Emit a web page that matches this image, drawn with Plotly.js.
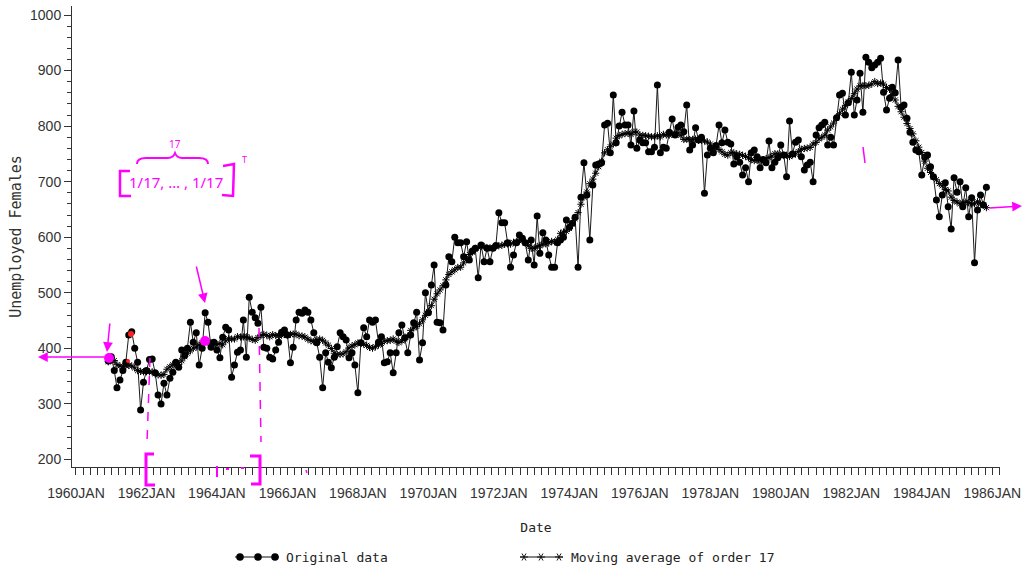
<!DOCTYPE html>
<html><head><meta charset="utf-8">
<script src="https://cdn.plot.ly/plotly-3.0.1.min.js"></script>
<style>html,body{margin:0;padding:0;background:#fff;}#chart{width:1023px;height:569px;}</style>
</head><body><div id="chart"></div>
<script>
// ---- data (monthly, Dec 1960 .. Nov 1985) ----
const startYear = 1960;
const startMonth = 12;
const unemployed1960s = [
 377, 385, 360, 329, 343, 360, 375, 424, 430, 400, 375, 289, 339,
 360, 380, 381, 356, 316, 300, 337, 316, 346, 357, 375, 366,
 397, 387, 400, 447, 411, 428, 370, 400, 464, 447, 402, 411,
 397, 383, 420, 438, 433, 348, 370, 393, 397, 451, 384, 492,
 465, 455, 445, 474, 402, 400, 384, 381, 397, 411, 429, 433,
 424, 374, 402, 451, 465, 463, 469, 465, 451, 428, 410, 384,
 329, 392, 375, 365, 384, 403, 428, 421, 415, 383, 392, 370,
 320, 410, 437, 421, 451, 447, 451, 411, 421, 374, 376, 392,
 356, 392, 428, 442, 419, 392, 424, 446, 465, 379, 410, 500
];
const unemployed1970s = [
 464, 514, 550, 447, 446, 433, 514, 565, 556, 600, 590, 590,
 565, 592, 559, 575, 580, 527, 586, 556, 580, 556, 580, 585,
 644, 626, 626, 590, 546, 568, 590, 604, 598, 590, 559, 595,
 550, 638, 571, 608, 595, 568, 546, 546, 590, 595, 600, 631,
 618, 625, 636, 546, 672, 734, 676, 595, 694, 730, 732, 734,
 802, 805, 752, 856, 770, 800, 825, 802, 802, 766, 827, 760,
 775, 770, 770, 754, 754, 762, 874, 752, 762, 760, 789, 813,
 784, 798, 802, 790, 838, 757, 766, 797, 775, 780, 679, 748,
 760, 752, 765, 802, 770, 793, 771, 768, 732, 745, 735, 712,
 725, 700, 752, 757, 745, 725, 740, 734, 773, 725, 735, 743
];
const unemployed1980s = [
 766, 748, 709, 809, 750, 771, 775, 745, 721, 730, 735, 700,
 784, 797, 802, 807, 766, 780, 766, 815, 856, 859, 820, 842,
 897, 820, 847, 895, 825, 924, 915, 905, 910, 915, 922, 861,
 829, 850, 870, 860, 919, 834, 838, 814, 789, 771, 757, 754,
 712, 744, 748, 727, 709, 667, 637, 676, 698, 655, 615, 707,
 681, 700, 655, 689, 637, 671, 554, 649, 676, 658, 690
];
const maOrder = 17;
const tickLabels = ['1960JAN','1962JAN','1964JAN','1966JAN','1968JAN','1970JAN','1972JAN',
  '1974JAN','1976JAN','1978JAN','1980JAN','1982JAN','1984JAN','1986JAN'];
const seriesNames = ['Original data', 'Moving average of order 17'];

// ---- derived ----
const values = unemployed1960s.concat(unemployed1970s, unemployed1980s);
const dates = values.map((v, i) => {
  const m = startYear * 12 + (startMonth - 1) + i;
  const y = Math.floor(m / 12), mo = (m % 12) + 1;
  return y + '-' + String(mo).padStart(2, '0') + '-01';
});
const half = Math.floor(maOrder / 2);
const movingAvg = values.map((v, i) => {
  let s = 0, n = 0;
  for (let k = i - half; k <= i + half; k++) {
    if (k >= 0 && k < values.length) { s += values[k]; n++; }
  }
  return s / n;
});
const tickVals = tickLabels.map(t => t.slice(0, 4) + '-01-01');

// ---- geometry helpers (pixel -> paper) ----
const L = 72, R = 1000, T = 6, B = 467;
const px = x => (x - L) / (R - L);
const py = y => (B - y) / (B - T);
const MAG = '#ff00ff';
const monoFont = 'DejaVu Sans Mono, Liberation Mono, monospace';

function path(points) {
  return points.map(p => p[0] + ' ' + px(p[1]).toFixed(5) + ',' + py(p[2]).toFixed(5)).join(' ');
}
function circle(cx, cy, r, color) {
  return {type:'circle', xref:'paper', yref:'paper', x0:px(cx - r), x1:px(cx + r), y0:py(cy + r), y1:py(cy - r),
    fillcolor:color, line:{color:color, width:0}, layer:'above'};
}
function seg(x0, y0, x1, y1, color, width, dash) {
  return {type:'line', xref:'paper', yref:'paper', x0:px(x0), y0:py(y0), x1:px(x1), y1:py(y1),
    line:{color:color, width:width, dash:dash || 'solid'}, layer:'above'};
}
function star(cx, cy) {
  return {type:'path', xref:'paper', yref:'paper', layer:'above', line:{color:'#111', width:1},
    path: path([['M',cx-4,cy],['L',cx+4,cy],['M',cx-2,cy-3.5],['L',cx+2,cy+3.5],['M',cx-2,cy+3.5],['L',cx+2,cy-3.5]])};
}

const legY = 557;
const shapes = [
  // legend symbols
  seg(235, legY, 279, legY, '#111', 1.2),
  circle(240, legY, 3.8, '#000'), circle(258, legY, 3.8, '#000'), circle(275, legY, 3.8, '#000'),
  seg(520, legY, 563, legY, '#111', 1),
  star(524, legY), star(541, legY), star(559, legY),
  // hand-drawn magenta marks
  circle(109, 358, 5, MAG), circle(205, 341, 5, MAG),
  circle(131, 334, 3, '#ff2020'), circle(128, 361, 2, '#ff2020'),
  seg(150, 358, 147, 442, MAG, 1.5, 'dash'),
  seg(259, 328, 261, 442, MAG, 1.5, 'dash'),
  {type:'path', xref:'paper', yref:'paper', layer:'above', line:{color:MAG, width:3},
    path: path([['M',154,454],['L',146,454],['L',146,485],['L',155,485]])},
  {type:'path', xref:'paper', yref:'paper', layer:'above', line:{color:MAG, width:3},
    path: path([['M',250,456],['L',260,456],['L',260,484],['L',251,484]])},
  seg(217, 466, 217, 477, MAG, 2),
  seg(226, 469, 229, 469, MAG, 2), seg(241, 468, 244, 468, MAG, 2),
  seg(306, 470, 307, 473, MAG, 1.5),
  seg(863, 147, 865, 163, MAG, 1.5),
  // formula brackets and brace
  {type:'path', xref:'paper', yref:'paper', layer:'above', line:{color:MAG, width:2.5},
    path: path([['M',130,171],['L',120,171],['L',120,196],['L',131,196]])},
  {type:'path', xref:'paper', yref:'paper', layer:'above', line:{color:MAG, width:2.5},
    path: path([['M',223,166],['L',234,164],['L',233,196],['L',222,195]])},
  {type:'path', xref:'paper', yref:'paper', layer:'above', line:{color:MAG, width:2},
    path: 'M ' + px(137) + ',' + py(164) + ' Q ' + px(137) + ',' + py(158) + ' ' + px(146) + ',' + py(158) +
          ' L ' + px(168) + ',' + py(158) + ' Q ' + px(173) + ',' + py(158) + ' ' + px(175) + ',' + py(153) +
          ' Q ' + px(177) + ',' + py(158) + ' ' + px(182) + ',' + py(158) +
          ' L ' + px(199) + ',' + py(158) + ' Q ' + px(208) + ',' + py(158) + ' ' + px(208) + ',' + py(164)}
];

function arrow(hx, hy, ax, ay) {
  return {xref:'paper', yref:'paper', x:px(hx), y:py(hy), ax:ax, ay:ay, text:'', showarrow:true,
    arrowhead:2, arrowsize:1.3, arrowwidth:1.5, arrowcolor:MAG, standoff:0};
}
const annotations = [
  {xref:'paper', yref:'paper', x:px(284), y:py(legY), xanchor:'left', yanchor:'middle', showarrow:false,
    text:seriesNames[0], font:{family:monoFont, size:13, color:'#222'}},
  {xref:'paper', yref:'paper', x:px(569), y:py(legY), xanchor:'left', yanchor:'middle', showarrow:false,
    text:seriesNames[1], font:{family:monoFont, size:13, color:'#222'}},
  arrow(38, 357, 68, 0),
  arrow(107, 352, 3, -30),
  arrow(205, 303, -9, -38),
  arrow(1022, 206, -34, 2),
  {xref:'paper', yref:'paper', x:px(176), y:py(182), xanchor:'center', yanchor:'middle', showarrow:false,
    text:'1/17, … , 1/17', font:{family:'Noto Sans, sans-serif', size:15, color:MAG}},
  {xref:'paper', yref:'paper', x:px(175), y:py(144), xanchor:'center', yanchor:'middle', showarrow:false,
    text:'17', font:{family:'Noto Sans, sans-serif', size:10, color:MAG}},
  {xref:'paper', yref:'paper', x:px(244), y:py(160), xanchor:'center', yanchor:'middle', showarrow:false,
    text:'T', font:{family:'Noto Sans, sans-serif', size:9, color:MAG}}
];

const traces = [
  {x:dates, y:values, type:'scatter', mode:'lines+markers', name:seriesNames[0],
   line:{color:'#1a1a1a', width:1}, marker:{symbol:'circle', size:7, color:'#000'}},
  {x:dates, y:movingAvg, type:'scatter', mode:'lines+markers', name:seriesNames[1],
   line:{color:'#1a1a1a', width:1}, marker:{symbol:'asterisk-open', size:6, color:'#000', line:{width:1, color:'#000'}}}
];

const axisColor = '#333';
const layout = {
  width:1023, height:569,
  margin:{l:L, r:1023 - R, t:T, b:569 - B},
  paper_bgcolor:'#fff', plot_bgcolor:'#fff',
  showlegend:false,
  font:{family:'Liberation Sans, Arial, sans-serif', size:14, color:'#333'},
  xaxis:{type:'date', range:['1959-11-21', '1986-03-22'], tickmode:'array', tickvals:tickVals, ticktext:tickLabels,
    ticks:'outside', ticklen:7, tickwidth:1, tickcolor:axisColor, ticklabelstandoff:6,
    showline:true, linecolor:axisColor, linewidth:1, showgrid:false, zeroline:false,
    tickfont:{family:'Liberation Sans, Arial, sans-serif', size:14, color:'#333'},
    minor:{ticks:'outside', ticklen:7, tickwidth:1, tickcolor:axisColor, dtick:73.05 * 86400000, tick0:'1960-01-01', showgrid:false},
    title:{text:'Date', font:{family:monoFont, size:13, color:'#222'}, standoff:23}},
  yaxis:{range:[186.4, 1016.2], tick0:0, dtick:100, ticks:'outside', ticklen:7, tickwidth:1, tickcolor:axisColor,
    showline:true, linecolor:axisColor, linewidth:1, showgrid:false, zeroline:false,
    tickfont:{family:'Liberation Sans, Arial, sans-serif', size:14, color:'#333'},
    minor:{ticks:'outside', ticklen:4, tickwidth:1, tickcolor:axisColor, dtick:20, showgrid:false},
    title:{text:'Unemployed Females', font:{family:monoFont, size:15, color:'#333'}, standoff:4}},
  shapes:shapes,
  annotations:annotations
};

Plotly.newPlot('chart', traces, layout, {displayModeBar:false, staticPlot:true});
</script>
</body></html>
